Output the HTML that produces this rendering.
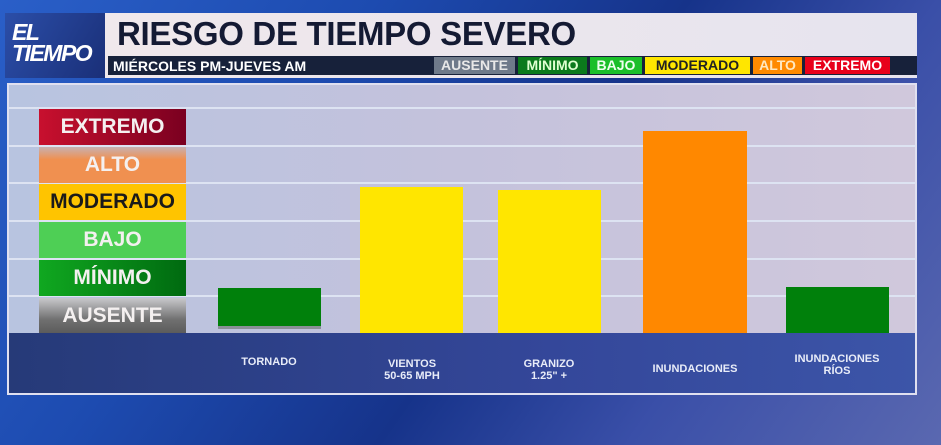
<!DOCTYPE html>
<html><head><meta charset="utf-8"><style>
*{margin:0;padding:0;box-sizing:border-box}
body{width:941px;height:445px;overflow:hidden;position:relative;font-family:"Liberation Sans",sans-serif;
background:linear-gradient(125deg,#2a5fc8 0%,#1d4bb0 30%,#16338a 55%,#3a4fa8 75%,#5a68b0 100%)}
.a{position:absolute}
.logo{left:5px;top:13px;width:100px;height:65px;background:linear-gradient(120deg,#2b4ea8,#1a2f78);color:#fff;font-style:italic;font-weight:bold;font-size:23px;line-height:21px;padding:9px 0 0 7px;letter-spacing:-1.5px}
.tp{left:105px;top:13px;width:812px;height:65px;background:linear-gradient(90deg,#f0e8ec,#e6e4ee)}
.title{left:117px;top:15px;font-size:33px;font-weight:bold;color:#141a33;letter-spacing:-0.3px}
.db{left:108px;top:56px;width:809px;height:19px;background:#17213a}
.sub{left:113px;top:57px;color:#fff;font-size:14px;font-weight:bold;line-height:18px}
.chip{top:57px;height:17px;font-size:14px;font-weight:bold;line-height:17px;text-align:center}
.panel{left:7px;top:83px;width:910px;height:312px;background:linear-gradient(90deg,#b8c4e0,#c4c2dc 50%,#d0c8dc);border:2px solid #e0e0f0}
.grid{left:9px;width:906px;height:2px;background:#dde3f2}
.band{left:9px;top:333px;width:906px;height:60px;background:linear-gradient(90deg,#263a78,#34479a 60%,#3c55a8)}
.lg{left:39px;width:147px;height:36px;font-size:21px;font-weight:bold;text-align:center;line-height:36px;color:#f4f0f0}
.bar{position:absolute}
.lab{color:#e8ecf8;font-size:11px;font-weight:bold;text-align:center;width:140px;line-height:12px}
</style></head><body>
<div class="a logo">EL<br>TIEMPO</div>
<div class="a tp"></div>
<div class="a title">RIESGO DE TIEMPO SEVERO</div>
<div class="a db"></div>
<div class="a sub">MIÉRCOLES PM-JUEVES AM</div>
<div class="a chip" style="left:434px;width:81px;background:#6f7a8a;color:#e8e8e8">AUSENTE</div>
<div class="a chip" style="left:518px;width:69px;background:#0b7a1c;color:#dfffd0">MÍNIMO</div>
<div class="a chip" style="left:590px;width:52px;background:#1bbf2a;color:#f0fff0">BAJO</div>
<div class="a chip" style="left:645px;width:105px;background:#ffe600;color:#222">MODERADO</div>
<div class="a chip" style="left:753px;width:49px;background:#ff8a00;color:#ffe8c0">ALTO</div>
<div class="a chip" style="left:805px;width:85px;background:#e8001a;color:#fff">EXTREMO</div>
<div class="a panel"></div>
<div class="a grid" style="top:107px"></div>
<div class="a grid" style="top:145px"></div>
<div class="a grid" style="top:182px"></div>
<div class="a grid" style="top:220px"></div>
<div class="a grid" style="top:258px"></div>
<div class="a grid" style="top:295px"></div>
<div class="a lg" style="top:109px;background:linear-gradient(90deg,#c8102e,#7a0020)">EXTREMO</div>
<div class="a lg" style="top:147px;background:linear-gradient(180deg,#c8b0b0,#f09050 35%,#f09050)">ALTO</div>
<div class="a lg" style="top:184px;background:#ffc400;color:#1a1a1a">MODERADO</div>
<div class="a lg" style="top:222px;background:#4ecf55">BAJO</div>
<div class="a lg" style="top:260px;background:linear-gradient(90deg,#10a820,#006a10)">MÍNIMO</div>
<div class="a lg" style="top:298px;background:linear-gradient(180deg,#c8c8cc,#707070 60%,#5a5a5a)">AUSENTE</div>
<div class="a band"></div>
<div class="bar" style="left:218px;top:288px;width:103px;height:41px;background:#8a9098"></div>
<div class="bar" style="left:218px;top:288px;width:103px;height:38px;background:#00800b"></div>
<div class="bar" style="left:360px;top:187px;width:103px;height:146px;background:#ffe600"></div>
<div class="bar" style="left:498px;top:190px;width:103px;height:143px;background:#ffe600"></div>
<div class="bar" style="left:643px;top:131px;width:104px;height:202px;background:#ff8800"></div>
<div class="bar" style="left:786px;top:287px;width:103px;height:46px;background:#00800b"></div>
<div class="a lab" style="left:199px;top:356px">TORNADO</div>
<div class="a lab" style="left:342px;top:358px">VIENTOS<br>50-65 MPH</div>
<div class="a lab" style="left:479px;top:358px">GRANIZO<br>1.25" +</div>
<div class="a lab" style="left:625px;top:363px">INUNDACIONES</div>
<div class="a lab" style="left:767px;top:353px">INUNDACIONES<br>RÍOS</div>
</body></html>
